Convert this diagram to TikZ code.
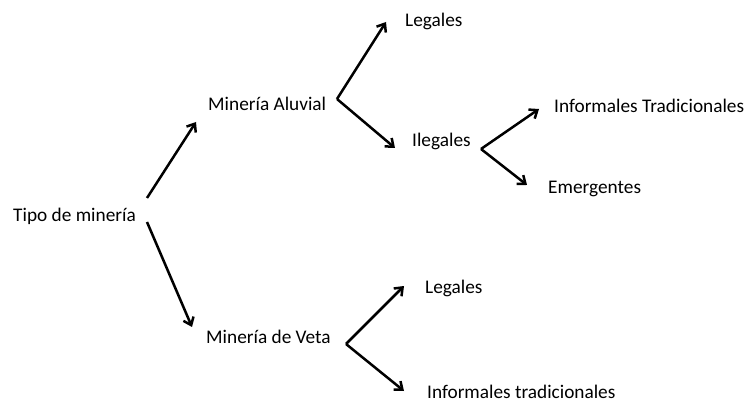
\documentclass[tikz,border=0pt]{standalone}
\usepackage{fontspec}
\setmainfont{Carlito}
\usetikzlibrary{arrows.meta}
\begin{document}
\begin{tikzpicture}[x=1pt,y=-1pt,
  lbl/.style={anchor=base west,inner sep=0pt,font=\fontsize{19.3}{22}\selectfont},
  arr/.style={line width=2.5pt,-{Straight Barb[length=7pt,width=11pt,line width=2.5pt]}}]
\useasboundingbox[fill=white] (0,0) rectangle (755,403);
\node[lbl] (tipo) at (13,221.7) {Tipo de minería};
\node[lbl] (aluvial) at (208,111) {Minería Aluvial};
\node[lbl] (legA) at (405,27) {Legales};
\node[lbl] (ilegA) at (412,146.5) {Ilegales};
\node[lbl] (infT) at (554,113) {Informales Tradicionales};
\node[lbl] (emerg) at (548,194) {Emergentes};
\node[lbl] (veta) at (206,344) {Minería de Veta};
\node[lbl] (legV) at (425,294) {Legales};
\node[lbl] (inft) at (427,398) {Informales tradicionales};
% connector ends
\coordinate (t1) at (147,198);
\coordinate (t2) at (147,222);
\coordinate (tAl) at (196,122);
\coordinate (tVe) at (192,327);
\coordinate (fa) at (337,99);
\coordinate (faU) at (386,22);
\coordinate (faD) at (395,148);
\coordinate (fi) at (481,149);
\coordinate (fiU) at (539,109);
\coordinate (fiD) at (527,185);
\coordinate (fv) at (346,344);
\coordinate (fvU) at (404,286);
\coordinate (fvD) at (404,391);
\draw[arr] (t1) -- (tAl);
\draw[arr] (t2) -- (tVe);
\draw[arr] (fa) -- (faU);
\draw[arr] (fa) -- (faD);
\draw[arr] (fi) -- (fiU);
\draw[arr] (fi) -- (fiD);
\draw[arr] (fv) -- (fvU);
\draw[arr] (fv) -- (fvD);
\end{tikzpicture}
\end{document}
